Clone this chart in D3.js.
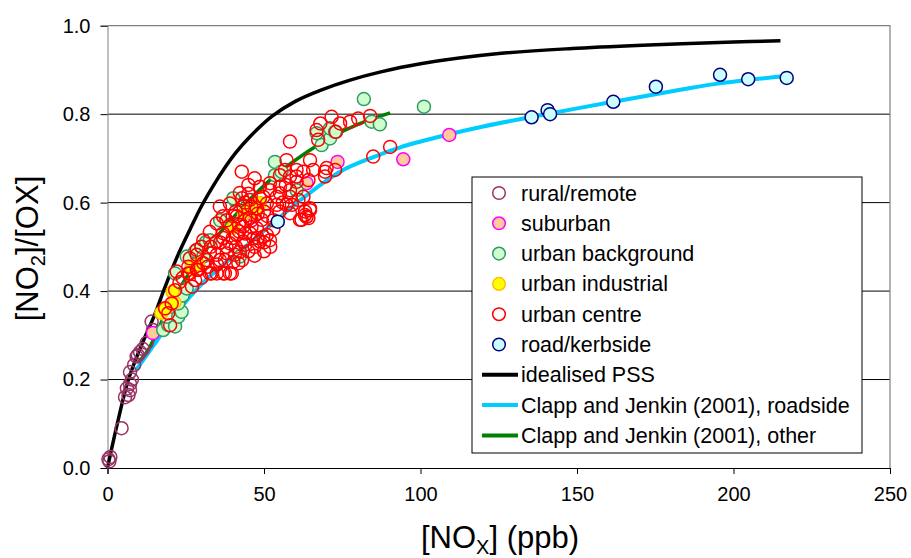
<!DOCTYPE html>
<html>
<head>
<meta charset="utf-8">
<script src="https://cdn.jsdelivr.net/npm/d3@7/dist/d3.min.js"></script>
<style>
  html, body { margin: 0; padding: 0; background: #fff; }
  text { font-family: "Liberation Sans", Arial, sans-serif; fill: #000; }
</style>
</head>
<body>
<svg id="chart" width="911" height="558"></svg>
<script>
// ---- data: [NOx (ppb), NO2/OX] ----
const ruralRemote = [
  [0.3, 0.02], [0.6, 0.015], [0.9, 0.025], [4.5, 0.09], [5.6, 0.16], [6.2, 0.18],
  [6.7, 0.165], [7.2, 0.19], [7.2, 0.176], [7.8, 0.2], [7.2, 0.217], [8.5, 0.233],
  [9.3, 0.252], [9.7, 0.255], [10.4, 0.262], [11.3, 0.269], [12.5, 0.283],
  [14.1, 0.331], [14.5, 0.312]
];
const suburban = [
  [14.5, 0.305], [20, 0.36], [47, 0.57], [63.6, 0.644], [73.5, 0.692],
  [94.5, 0.698], [109.2, 0.753]
];
const urbanBackground = [
  [17.8, 0.312], [19.4, 0.323], [21.6, 0.32], [18.9, 0.342], [22.6, 0.342],
  [23.7, 0.353], [22.6, 0.372], [24, 0.39], [25.3, 0.406], [21.6, 0.44],
  [27, 0.46], [25.3, 0.478], [28, 0.49], [30, 0.5], [31.5, 0.511], [30.6, 0.478],
  [32.7, 0.515], [42.3, 0.478], [36, 0.56], [40.9, 0.604], [40.2, 0.61],
  [53.5, 0.662], [60.4, 0.628], [53.5, 0.692], [55.6, 0.67], [68.4, 0.73],
  [71.1, 0.745], [66.8, 0.757], [71.1, 0.768], [72.7, 0.76], [84.4, 0.783],
  [87, 0.777], [81.9, 0.834], [101.1, 0.817]
];
const urbanIndustrial = [
  [17.2, 0.351], [18.5, 0.36], [21.4, 0.374], [20.8, 0.398], [27, 0.449],
  [26.9, 0.455], [29, 0.46], [40, 0.543], [43.6, 0.575], [45.5, 0.583],
  [47.4, 0.583], [48.7, 0.599]
];
const urbanCentre = [
  [20, 0.323], [19.4, 0.35], [18.4, 0.361], [20.5, 0.372], [21.6, 0.402],
  [28, 0.425], [22.1, 0.444], [25.8, 0.44], [25.8, 0.455], [29, 0.448],
  [33.3, 0.44], [37.5, 0.44], [39.7, 0.44], [28.5, 0.482], [31.7, 0.47],
  [34.9, 0.482], [37.5, 0.47], [40.7, 0.482], [41.8, 0.463], [26.3, 0.44],
  [28.5, 0.448], [32.7, 0.44], [36.9, 0.44], [26.3, 0.474], [30.6, 0.463],
  [35.9, 0.47], [40.2, 0.466], [28.5, 0.493], [32.7, 0.485], [38.1, 0.485],
  [42.3, 0.489], [30.6, 0.515], [34.9, 0.512], [39.1, 0.508], [43.4, 0.512],
  [46.6, 0.519], [50.9, 0.527], [32.7, 0.534], [36.9, 0.531], [41.3, 0.527],
  [45.5, 0.531], [49.8, 0.523], [34.9, 0.553], [39.1, 0.549], [43.4, 0.546],
  [47.7, 0.542], [36.9, 0.569], [41.3, 0.569], [45.5, 0.565], [49.3, 0.561],
  [35.9, 0.591], [39.1, 0.598], [43.4, 0.591], [47.7, 0.587], [50.9, 0.598],
  [54.1, 0.595], [42.3, 0.622], [45.5, 0.606], [48.7, 0.61], [51.9, 0.628],
  [55.1, 0.621], [58.3, 0.613], [42.9, 0.67], [55.1, 0.662], [58.3, 0.659],
  [60.4, 0.647], [44, 0.6], [46, 0.56], [42, 0.55], [40, 0.57], [38, 0.56],
  [44, 0.53], [47, 0.5], [50, 0.49], [52, 0.5], [45, 0.49], [43, 0.47],
  [48, 0.52], [53, 0.54], [51, 0.57], [55, 0.58], [48.7, 0.512], [51.9, 0.515],
  [39.1, 0.44], [34.9, 0.44], [58.3, 0.576], [61.5, 0.561], [64.2, 0.565],
  [63.1, 0.58], [62, 0.561], [63.6, 0.568], [64.7, 0.583], [48.7, 0.636],
  [51.9, 0.644], [55.1, 0.636], [58.3, 0.628], [62.6, 0.613], [49.8, 0.613],
  [54.1, 0.613], [57.2, 0.595], [61, 0.606], [64.7, 0.587], [63.1, 0.572],
  [58.9, 0.595], [57.2, 0.696], [64.7, 0.696], [56.7, 0.674], [60.4, 0.674],
  [62.6, 0.67], [65.7, 0.674], [69.5, 0.67], [72.7, 0.674], [69.5, 0.659],
  [60.4, 0.659], [64.2, 0.651], [70, 0.678], [58.3, 0.738], [67.3, 0.742],
  [66.8, 0.764], [73, 0.76], [68, 0.779], [74.3, 0.779], [71.6, 0.794],
  [77.5, 0.783], [80.1, 0.79], [83.9, 0.796], [84.9, 0.704], [90.3, 0.726],
  [41, 0.58], [43, 0.61], [45, 0.62], [46, 0.59], [48, 0.575], [50, 0.58],
  [42, 0.535], [44, 0.56], [46, 0.545], [40, 0.52], [38, 0.5], [36, 0.51],
  [41, 0.5], [44, 0.505], [47, 0.48], [50, 0.51], [53, 0.56], [56, 0.6],
  [57, 0.64], [45, 0.64], [47, 0.655], [24, 0.43], [23, 0.42], [30, 0.43],
  [32, 0.455], [35, 0.46], [27, 0.41], [30, 0.5], [33, 0.5], [37, 0.52]
];
const roadKerbside = [
  [54.4, 0.557], [135.5, 0.793], [140.6, 0.809], [141.4, 0.8], [161.6, 0.828],
  [175.2, 0.862], [195.7, 0.889], [204.7, 0.879], [217, 0.882]
];
const idealisedPSS = [
  [0, 0], [2.9, 0.093], [6.7, 0.2], [11, 0.28], [15, 0.345], [18, 0.402],
  [22.6, 0.483], [26.4, 0.54], [30.1, 0.593], [34.9, 0.651], [37, 0.674],
  [41, 0.713], [45.5, 0.749], [52.5, 0.795], [60, 0.829], [68.4, 0.855],
  [77.5, 0.877], [87, 0.895], [100, 0.914], [125, 0.937], [150, 0.949],
  [175, 0.957], [200, 0.963], [215, 0.966]
];
const clappRoadside = [
  [9, 0.22], [15, 0.28], [22, 0.35], [30, 0.415], [37, 0.46], [44, 0.5],
  [54.4, 0.563], [61.5, 0.605], [74.3, 0.67], [85, 0.703], [93.5, 0.725],
  [106, 0.749], [120, 0.772], [135, 0.793], [161.5, 0.828], [183, 0.855],
  [195, 0.869], [215, 0.885]
];
const clappOther = [
  [10, 0.24], [13, 0.267], [20, 0.37], [30, 0.48], [40, 0.565], [49, 0.632],
  [57, 0.68], [65, 0.72], [72, 0.75], [80, 0.777], [90.3, 0.803]
];

const xTicks = [0, 50, 100, 150, 200, 250];
const yTicks = [0.0, 0.2, 0.4, 0.6, 0.8, 1.0];

const pointSeries = [
  { name: "rural/remote", data: ruralRemote, fill: "none", stroke: "#993366" },
  { name: "suburban", data: suburban, fill: "#FFCC99", stroke: "#FF00FF" },
  { name: "urban background", data: urbanBackground, fill: "#CCFFCC", stroke: "#339966" },
  { name: "urban industrial", data: urbanIndustrial, fill: "#FFFF00", stroke: "#FFC000" },
  { name: "urban centre", data: urbanCentre, fill: "none", stroke: "#FF0000" },
  { name: "road/kerbside", data: roadKerbside, fill: "#CCFFFF", stroke: "#000080" }
];
const lineSeries = [
  { name: "idealised PSS", data: idealisedPSS, color: "#000000", width: 3.5 },
  { name: "Clapp and Jenkin (2001), roadside", data: clappRoadside, color: "#00CCFF", width: 4 },
  { name: "Clapp and Jenkin (2001), other", data: clappOther, color: "#008000", width: 3.5 }
];

// ---- layout ----
const svg = d3.select("#chart");
const plotLeft = 107.5, plotRight = 890, plotTop = 25.7, plotBottom = 468;
const x = d3.scaleLinear().domain([0, 250]).range([plotLeft, plotRight]);
const y = d3.scaleLinear().domain([0, 1]).range([plotBottom, plotTop]);
const R = 6.5;

// horizontal gridlines
svg.append("g").selectAll("line")
  .data(yTicks.filter(v => v > 0 && v < 1))
  .join("line")
  .attr("x1", plotLeft).attr("x2", plotRight)
  .attr("y1", d => y(d)).attr("y2", d => y(d))
  .attr("stroke", "#000").attr("stroke-width", 1);

// plot area border (top/right)
svg.append("path")
  .attr("d", `M${plotLeft},${plotTop}H${plotRight}V${plotBottom}`)
  .attr("fill", "none").attr("stroke", "#808080").attr("stroke-width", 1.2);

// axes
const xAxis = d3.axisBottom(x).tickValues(xTicks).tickSize(6).tickPadding(13).tickFormat(d3.format("d"));
const yAxis = d3.axisLeft(y).tickValues(yTicks).tickSize(7).tickPadding(10).tickFormat(d3.format(".1f"));
const gx = svg.append("g").attr("transform", `translate(0,${plotBottom})`).call(xAxis);
const gy = svg.append("g").attr("transform", `translate(${plotLeft},0)`).call(yAxis);
gx.select(".domain").attr("stroke", "#000");
gy.select(".domain").attr("stroke", "#808080");
gx.selectAll(".tick line").attr("stroke", "#000");
gy.selectAll(".tick line").attr("stroke", "#000");
[gx, gy].forEach(g => g.selectAll("text")
  .style("font-family", '"Liberation Sans", Arial, sans-serif')
  .style("font-size", "20px").attr("fill", "#000"));
gx.selectAll("text").attr("dy", "0.71em");

const plot = svg.append("g");

// model curves (drawn beneath the markers)
const line = d3.line().x(d => x(d[0])).y(d => y(d[1])).curve(d3.curveCatmullRom.alpha(0.5));
lineSeries.forEach(s => {
  plot.append("path").datum(s.data)
    .attr("d", line)
    .attr("fill", "none").attr("stroke", s.color)
    .attr("stroke-width", s.width).attr("stroke-linecap", "butt");
});

// scatter markers
pointSeries.forEach(s => {
  plot.append("g").selectAll("circle")
    .data(s.data)
    .join("circle")
    .attr("cx", d => x(d[0])).attr("cy", d => y(d[1]))
    .attr("r", R)
    .attr("fill", s.fill).attr("stroke", s.stroke).attr("stroke-width", 1.5);
});

// axis titles
svg.append("text")
  .attr("x", 500).attr("y", 548).attr("text-anchor", "middle")
  .style("font-size", "31px")
  .call(t => {
    t.append("tspan").text("[NO");
    t.append("tspan").text("X").attr("font-size", "20px").attr("dy", 6);
    t.append("tspan").text("] (ppb)").attr("dy", -6);
  });

svg.append("text")
  .attr("transform", "translate(38,248.5) rotate(-90)")
  .attr("text-anchor", "middle")
  .style("font-size", "31px")
  .call(t => {
    t.append("tspan").text("[NO");
    t.append("tspan").text("2").attr("font-size", "20px").attr("dy", 7);
    t.append("tspan").text("]/[OX]").attr("dy", -7);
  });

// legend
const lg = svg.append("g");
lg.append("rect")
  .attr("x", 472).attr("y", 177).attr("width", 390).attr("height", 276)
  .attr("fill", "#fff").attr("stroke", "#000").attr("stroke-width", 1);
const rowY = i => 193 + i * 30.3;
pointSeries.forEach((s, i) => {
  lg.append("circle").attr("cx", 499).attr("cy", rowY(i)).attr("r", 6.3)
    .attr("fill", s.fill === "none" ? "#fff" : s.fill)
    .attr("stroke", s.stroke).attr("stroke-width", 1.5);
  lg.append("text").attr("x", 521).attr("y", rowY(i)).attr("dy", "0.35em")
    .style("font-size", "21.5px").text(s.name);
});
lineSeries.forEach((s, j) => {
  const i = j + pointSeries.length;
  lg.append("line").attr("x1", 482).attr("x2", 518)
    .attr("y1", rowY(i)).attr("y2", rowY(i))
    .attr("stroke", s.color).attr("stroke-width", 4);
  lg.append("text").attr("x", 521).attr("y", rowY(i)).attr("dy", "0.35em")
    .style("font-size", "21.5px").text(s.name);
});
</script>
</body>
</html>
